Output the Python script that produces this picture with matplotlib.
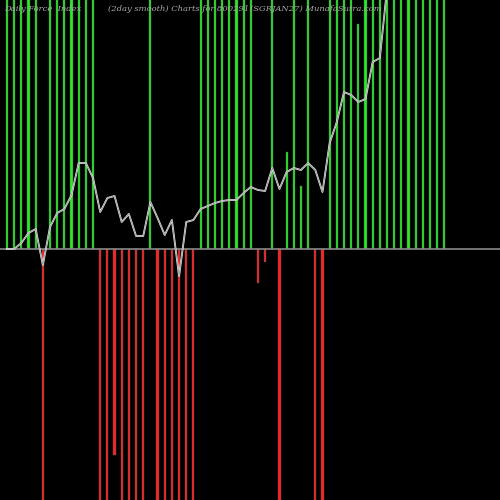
import matplotlib
matplotlib.use("Agg")
import matplotlib.pyplot as plt
import numpy as np

# bar values in chart units (baseline 0); 260/-260 = beyond frame
bars = [260,260,260,260,260,-260,260,260,260,260,260,260,260,
        -260,-260,-206,-260,-260,-260,-260,260,
        -260,-260,-260,-260,-260,-260,260,260,260,260,260,260,260,260,
        -34,-13,260,-260,97,260,63,260,-260,-260,
        260,260,260,260,225,260,260,260,260,260,260,260,260,260,260,260,260]
# smoothed force index line
line = [0,0,6,16,20,-16,22,36,40,54,86,86,71,37,51,53,27,35,13,13,47,31,14,29,-27,27,29,
        40,43,46,48,49,49,56,62,59,58,81,60,77,81,79,86,79,57,106,127,157,154,147,150,187,191,260]

fig = plt.figure(figsize=(5,5), dpi=100, facecolor="black")
ax = fig.add_axes([0,0,1,1], facecolor="black")
x = np.arange(len(bars))
cols = ["#22ee22" if v > 0 else "#ff2020" for v in bars]
ax.bar(x, bars, width=0.3, color=cols, edgecolor="#555555", linewidth=0.3)
ax.axhline(0, color="#888888", lw=1.2)
ax.plot(np.arange(len(line)), line, color="#eeeeee", lw=1.3)
ax.plot(np.arange(len(line)), line, color="#888888", lw=0.5)
ax.set_xlim(-0.976, 68.76)
ax.set_ylim(-251, 249)
ax.axis("off")
kw = dict(color="#aaaaaa", fontsize=6, family="DejaVu Serif", style="italic", va="top")
fig.text(0.008, 0.99, "Daily Force  Index", **kw)
fig.text(0.216, 0.99, "(2day smooth) Charts for 800291", **kw)
fig.text(0.50, 0.99, "(SGRJAN27) MunafaSutra.com", **kw)
fig.savefig("out.png", dpi=100, facecolor="black")
